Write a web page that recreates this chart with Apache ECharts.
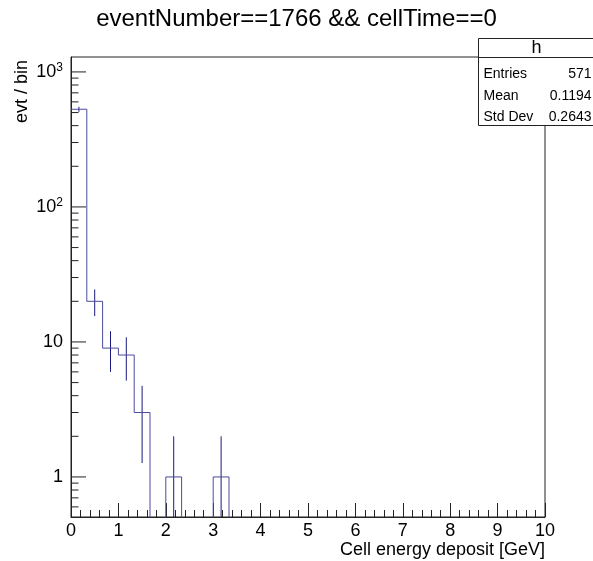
<!DOCTYPE html>
<html>
<head>
<meta charset="utf-8">
<script src="https://cdn.jsdelivr.net/npm/echarts@6/dist/echarts.min.js"></script>
<style>
html,body{margin:0;padding:0;background:#fff;}
#chart{width:593px;height:561px;}
</style>
</head>
<body>
<div id="chart"></div>
<script>
// ---- data ----
const titleText = 'eventNumber==1766 && cellTime==0';
const xTitle = 'Cell energy deposit [GeV]';
const yTitle = 'evt / bin';
const xMin = 0, xMax = 10;
const binWidth = 1 / 3;
// counts per bin (30 bins of 1/3 GeV from 0 to 10)
const counts = [529, 20, 9, 8, 3, 0, 1, 0, 0, 1,
                0, 0, 0, 0, 0, 0, 0, 0, 0, 0,
                0, 0, 0, 0, 0, 0, 0, 0, 0, 0];
const yMin = 0.505, yMax = 1290;
const yMajorTicks = [1, 10, 100, 1000];
const yMinorTicks = [0.6, 0.7, 0.8, 0.9, 2, 3, 4, 5, 6, 7, 8, 9,
                     20, 30, 40, 50, 60, 70, 80, 90, 200, 300, 400, 500, 600, 700, 800, 900];
const statTitle = 'h';
const statLabels = ['Entries', 'Mean', 'Std Dev'];
const statValues = ['571', '0.1194', '0.2643'];

// ---- build ----
const offFloor = 0.1; // zero bins drawn below the frame (clipped)
const stepData = counts.map((c, i) => [i * binWidth, c > 0 ? c : offFloor]);
stepData.push([xMax, counts[counts.length - 1] > 0 ? counts[counts.length - 1] : offFloor]);
const errData = [];
counts.forEach((c, i) => { if (c > 0) errData.push([(i + 0.5) * binWidth, c]); });

const FONT = 'Liberation Sans, Arial, Helvetica, sans-serif';
const lineCol = '#4a4a9e';
const errCol = '#1a1a82';
const tickCol = '#222';

function tickSeries(values, len) {
  return {
    type: 'custom', clip: false,
    data: values.map(v => [xMin, v]),
    renderItem: function (params, api) {
      const p = api.coord([api.value(0), api.value(1)]);
      return {type: 'line', shape: {x1: p[0], y1: p[1], x2: p[0] + len, y2: p[1]}, style: {stroke: tickCol, lineWidth: 1}};
    }
  };
}

const chart = echarts.init(document.getElementById('chart'), null, {renderer: 'canvas'});
chart.setOption({
  animation: false,
  backgroundColor: '#fff',
  title: {
    text: titleText, left: 'center', top: 2,
    textStyle: {fontSize: 24, fontWeight: 'normal', fontFamily: FONT, color: '#000'}
  },
  grid: {left: 71, right: 48, top: 57, bottom: 44, show: true, borderColor: tickCol, borderWidth: 1},
  xAxis: {
    type: 'value', min: xMin, max: xMax, interval: 1,
    name: xTitle, nameLocation: 'end', nameGap: 0,
    nameTextStyle: {align: 'right', verticalAlign: 'top', padding: [24, 0, 0, 0], fontSize: 18, fontFamily: FONT, color: '#000'},
    axisLine: {show: true, lineStyle: {color: tickCol, width: 1}},
    axisTick: {show: true, inside: true, length: 14, lineStyle: {color: tickCol, width: 1}},
    minorTick: {show: true, splitNumber: 5, length: 7, lineStyle: {color: tickCol, width: 1}},
    axisLabel: {margin: 5, fontSize: 18, fontFamily: FONT, color: '#000'},
    splitLine: {show: false},
    minorSplitLine: {show: false}
  },
  yAxis: {
    type: 'log', logBase: 10, min: yMin, max: yMax,
    axisLine: {show: true, lineStyle: {color: tickCol, width: 1}},
    axisTick: {show: false},
    axisLabel: {
      margin: 8, fontFamily: FONT, fontSize: 18, color: '#000', customValues: yMajorTicks,
      formatter: function (v) {
        const e = Math.round(Math.log10(v));
        if (e <= 1) return '{b|' + String(Math.round(v)) + '}';
        return '{b|10}{s|' + e + '}';
      },
      rich: {
        b: {fontSize: 18, fontFamily: FONT, color: '#000'},
        s: {fontSize: 12, fontFamily: FONT, color: '#000', padding: [0, 0, 9, 0]}
      }
    },
    splitLine: {show: false}
  },
  series: [
    tickSeries(yMajorTicks, 15),
    tickSeries(yMinorTicks, 7.5),
    {
      type: 'line', step: 'end', data: stepData, showSymbol: false, clip: true,
      lineStyle: {color: lineCol, width: 1}, itemStyle: {color: lineCol}
    }, {
      type: 'custom', data: errData, clip: true,
      renderItem: function (params, api) {
        const x = api.value(0), c = api.value(1), e = Math.sqrt(c);
        const p1 = api.coord([x, Math.max(c - e, yMin)]);
        const p2 = api.coord([x, Math.min(c + e, yMax)]);
        return {type: 'line', shape: {x1: p1[0], y1: p1[1], x2: p2[0], y2: p2[1]}, style: {stroke: errCol, lineWidth: 1}};
      }
    }
  ],
  graphic: [
    {type: 'text', left: 13, top: 60, rotation: Math.PI / 2,
     style: {text: yTitle, fontSize: 18, fontFamily: FONT, fill: '#000'}},
    {type: 'group', left: 476, top: 38, children: [
      {type: 'rect', shape: {x: 0, y: 0, width: 116, height: 87}, style: {fill: '#fff', stroke: tickCol, lineWidth: 1}},
      {type: 'line', shape: {x1: 0, y1: 19, x2: 116, y2: 19}, style: {stroke: tickCol, lineWidth: 1}},
      {type: 'text', x: 58, y: 10, style: {text: statTitle, fontSize: 18, fontFamily: FONT, fill: '#000', align: 'center', verticalAlign: 'middle'}},
      {type: 'text', x: 5, y: 36, style: {text: statLabels[0], fontSize: 14, fontFamily: FONT, fill: '#000', align: 'left', verticalAlign: 'middle'}},
      {type: 'text', x: 5, y: 57.5, style: {text: statLabels[1], fontSize: 14, fontFamily: FONT, fill: '#000', align: 'left', verticalAlign: 'middle'}},
      {type: 'text', x: 5, y: 79, style: {text: statLabels[2], fontSize: 14, fontFamily: FONT, fill: '#000', align: 'left', verticalAlign: 'middle'}},
      {type: 'text', x: 113, y: 36, style: {text: statValues[0], fontSize: 14, fontFamily: FONT, fill: '#000', align: 'right', verticalAlign: 'middle'}},
      {type: 'text', x: 113, y: 57.5, style: {text: statValues[1], fontSize: 14, fontFamily: FONT, fill: '#000', align: 'right', verticalAlign: 'middle'}},
      {type: 'text', x: 113, y: 79, style: {text: statValues[2], fontSize: 14, fontFamily: FONT, fill: '#000', align: 'right', verticalAlign: 'middle'}}
    ]}
  ]
});
</script>
</body>
</html>
